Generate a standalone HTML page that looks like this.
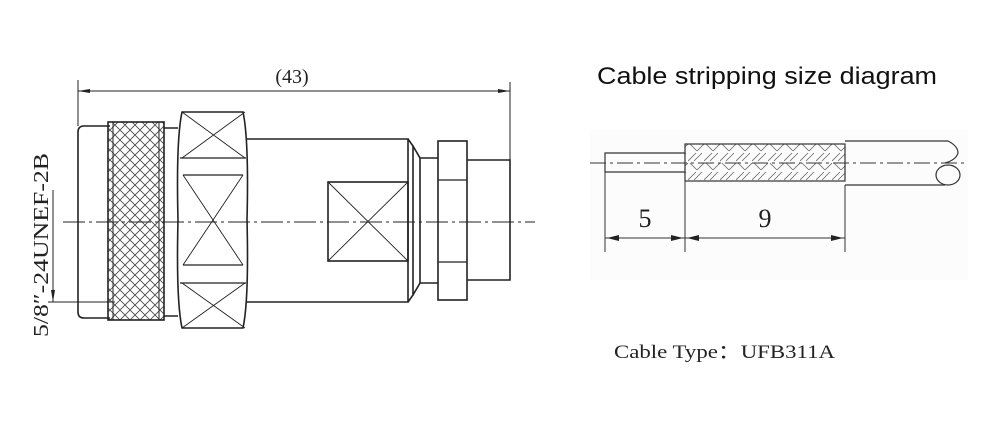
<!DOCTYPE html>
<html><head><meta charset="utf-8"><style>html,body{margin:0;padding:0;background:#fff}svg{display:block}</style></head>
<body>
<svg width="1000" height="425" viewBox="0 0 1000 425" xmlns="http://www.w3.org/2000/svg">
<defs>
<pattern id="knurl" width="10" height="10" patternUnits="userSpaceOnUse">
<path d="M0 0L10 10M10 0L0 10" stroke="#444" stroke-width="0.8"/>
</pattern>
<pattern id="braid" width="16" height="19" patternUnits="userSpaceOnUse">
<path d="M0 9L8 1M6 9L14 1M9 18L16 11M2 11L9 18" stroke="#666" stroke-width="0.8" fill="none"/>
</pattern>
</defs>
<g fill="none" stroke="#222" stroke-width="1.6">
<line x1="78" y1="80" x2="78" y2="126" stroke-width="1"/>
<line x1="510" y1="82" x2="510" y2="160" stroke-width="1"/>
<line x1="78" y1="91" x2="510" y2="91" stroke-width="1"/>
<path d="M78 91l12 -2v4z M510 91l-12 -2v4z" fill="#222" stroke="none"/>
<path d="M110 126H84Q78 126 78 132V312Q78 318 84 318H110"/>
<rect x="108" y="122" width="56" height="198" fill="url(#knurl)"/>
<line x1="113" y1="122" x2="113" y2="320" stroke-width="1"/>
<line x1="159" y1="122" x2="159" y2="320" stroke-width="1"/>
<path d="M164 128H178M164 316H178"/>
<path d="M182 112H243Q249 140 247 220Q249 300 243 328H182Q176 300 178 220Q176 140 182 112Z"/>
<path d="M180 158H246M183 175H243M183 265H243M180 283H246" stroke-width="1.3"/>
<path d="M182 112L245 158M245 112L182 158M183 175L243 265M243 175L183 265M182 283L245 328M245 283L182 328" stroke-width="0.9"/>
<path d="M247 139H408V302H247"/>
<rect x="328" y="182" width="80" height="79"/>
<path d="M328 182L408 261M408 182L328 261" stroke-width="0.9"/>
<path d="M408 139L413 146V295L408 302"/>
<path d="M413 146L420 158V283L413 295"/>
<path d="M420 158H438M420 283H438"/>
<rect x="438" y="141" width="29" height="159"/>
<path d="M438 180H467M438 262H467" stroke-width="1.3"/>
<path d="M467 160H510V280H467"/>
<line x1="63" y1="222" x2="535" y2="222" stroke-width="0.9" stroke-dasharray="22 4 3 4"/>
<line x1="53" y1="190" x2="53" y2="302" stroke-width="1"/>
<line x1="48" y1="302" x2="115" y2="302" stroke-width="1"/>
<path d="M53 302l-2 -12h4z" fill="#222" stroke="none"/>
</g>
<text x="292" y="83" font-family="Liberation Serif, serif" font-size="20" text-anchor="middle" fill="#222">(43)</text>
<text transform="translate(48 245) rotate(-90)" font-family="Liberation Serif, serif" font-size="21" text-anchor="middle" fill="#222" textLength="184" lengthAdjust="spacingAndGlyphs">5/8″-24UNEF-2B</text>

<rect x="590" y="130" width="378" height="150" fill="#fcfcfc"/>
<g fill="none" stroke="#333" stroke-width="1.2">
<rect x="685" y="144" width="160" height="37" fill="url(#braid)"/>
<path d="M685 153H605V172H685"/>
<path d="M845 141H948Q958 146 958 153Q956 160 945 163"/>
<path d="M845 185H945"/>
<ellipse cx="948" cy="175" rx="12" ry="10"/>
<path d="M605 153V252M685 181V252M845 185V252" stroke-width="1"/>
<line x1="605" y1="238" x2="845" y2="238" stroke-width="1"/>
<line x1="590" y1="163" x2="968" y2="163" stroke-width="0.9" stroke-dasharray="16 4 3 4"/>
</g>
<path d="M607 238l12 -3v6z M683 238l-12 -3v6z M687 238l12 -3v6z M843 238l-12 -3v6z" fill="#222"/>
<text x="645" y="227" font-family="Liberation Serif, serif" font-size="26" text-anchor="middle" fill="#222">5</text>
<text x="765" y="227" font-family="Liberation Serif, serif" font-size="26" text-anchor="middle" fill="#222">9</text>
<text x="597" y="84" font-family="Liberation Sans, sans-serif" font-size="24" fill="#111" textLength="340" lengthAdjust="spacingAndGlyphs">Cable stripping size diagram</text>
<text x="614" y="358" font-family="Liberation Serif, serif" font-size="19" fill="#222" textLength="221" lengthAdjust="spacingAndGlyphs">Cable Type：UFB311A</text>
</svg>
</body></html>
